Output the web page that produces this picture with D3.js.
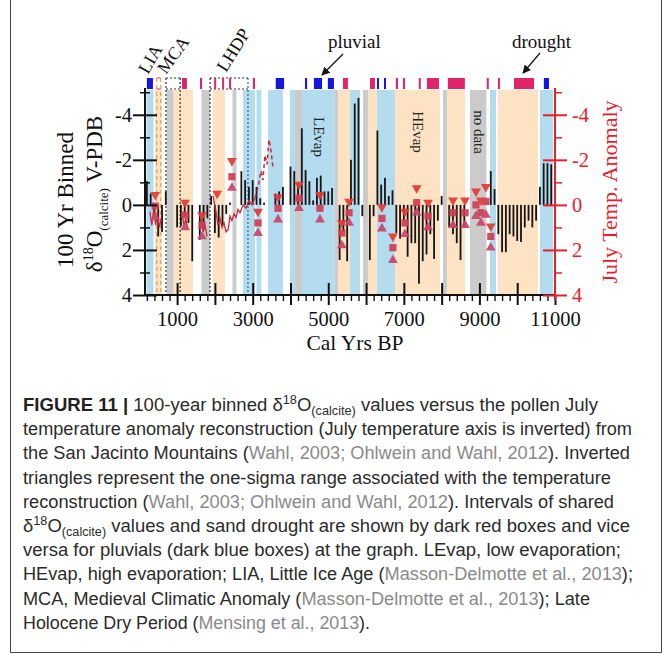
<!DOCTYPE html>
<html><head><meta charset="utf-8">
<script src="https://cdn.jsdelivr.net/npm/d3@7"></script>
<style>body{margin:0;background:#fff}</style>
</head><body>
<svg id="chart" width="672" height="654"></svg>
<script>
// ---------- DATA ----------
const binYears = [200,300,400,500,600,700,1000,1100,1200,1300,1400,1600,1700,1800,1900,2000,2100,2200,2300,2400,
  2700,2800,2900,3000,3100,3200,3300,3600,3700,3800,4000,4100,4200,4300,4400,4500,4600,4700,4800,4900,5000,5100,
  5300,5400,5500,5600,5700,5800,5900,6100,6200,6300,6400,6500,6600,6700,6800,6900,7000,7100,7200,7300,7400,7500,
  7600,7700,7800,7900,8000,8200,8300,8400,8500,8600,9300,9400,9500,9600,9700,9800,9900,10000,10100,10200,10300,
  10400,10500,10600,10700,10800,10900];
const d18O = [-1.05,-0.5,0.5,1.4,1.2,-0.6,1.0,0.95,0.5,0.8,2.5,1.55,1.1,0.6,-0.4,1.25,1.45,0.9,0.4,-0.1,
  -1.5,-1.1,-0.8,-1.1,-0.8,-0.3,-0.1,-0.5,-0.6,-0.8,-1.7,-1.5,-1.0,-3.4,-1.55,-1.05,-0.2,-1.2,-1.3,-0.6,-0.6,-0.75,
  2.45,1.2,2.5,-2.0,-4.5,-4.75,0.5,2.45,0.5,-3.3,-0.9,-1.2,-0.4,-0.65,1.25,1.5,0.7,2.3,1.7,1.7,3.5,2.5,
  2.2,1.3,2.4,0.7,-0.4,1.0,1.3,1.7,2.45,1.0,-1.5,-0.7,1.3,2.1,2.1,1.3,1.4,1.6,1.65,1.0,0.7,
  1.0,0.7,-0.8,-1.85,-1.85,-1.8];

// July temperature anomaly reconstruction (upper sigma, mean, lower sigma)
const tempYears = [420,1210,1660,2060,2450,3140,3670,4225,4780,5360,5550,6420,6710,7030,7340,7640,8300,8620,8910,9040,9170,9300];
const tempUpper = [-0.45,-0.1,0.45,-0.5,-1.95,0.3,-0.35,-0.9,-0.45,0.8,-0.15,0.1,1.4,0.3,-0.75,-0.1,-0.2,-0.2,-0.6,-0.2,-0.8,0.95];
const tempMean  = [0.05,0.45,0.9,null,-1.25,0.8,0.15,-0.3,0.15,1.25,0.35,0.6,1.9,0.8,-0.1,0.5,0.35,0.35,0.0,0.35,-0.15,1.4];
const tempLower = [0.55,1.0,1.4,null,-0.75,1.25,0.65,0.15,0.65,1.8,0.8,1.05,2.45,1.3,0.35,1.0,0.9,0.9,0.5,0.8,0.45,1.9];

// high-resolution temperature line (solid) and dashed part
const tempLineYears = [280,330,380,430,480,530,580,null,1130,1180,1230,1280,null,1640,1690,1740,1790,null,
  1950,2030,2080,2135,2190,2240,2295,2350,2400,2450,2505,2560,2610,2665,2745,2825,2900,2980,3060];
const tempLineVals  = [0.3,0.9,0.2,0.9,0.4,1.0,0.6,null,0.4,0.9,0.6,1.1,null,0.6,1.2,0.9,1.4,null,
  -0.4,0.3,0.9,0.6,1.0,0.8,1.2,1.1,0.5,0.7,0.4,0.55,0.2,0.35,0.0,0.15,-0.2,0.0,-0.3];
const tempDashYears = [3060,3140,3220,3270,3325,3380,3430,3485,3540];
const tempDashVals  = [-0.3,-0.8,-1.5,-1.1,-2.2,-1.8,-2.9,-2.4,-1.6];

// background intervals
const blueBands   = [[190,375],[2745,3060],[3100,3230],[3405,3800],[3985,5175],[5575,5840],[6290,6765],[9280,9440],[10600,10945]];
const orangeBands = [[415,600],[905,1420],[1950,2265],[5255,5575],[6050,6290],[6765,7955],[8140,8620],[9480,10550]];
const grayBands   = [[720,905],[1645,1870],[2465,2570],[4120,4305],[5175,5255],[5920,6050],[8035,8140],[8750,9185]];

// shared drought / pluvial boxes
const pluvialBoxes = [[200,360],[3610,3830],[4385,4440],[4620,4835],[4990,5150],[6290,6340],[6475,6525],[10705,10840]];
const droughtBoxes = [[1130,1260],[1605,1660],[1980,2030],[2190,2240],[2375,2425],[3005,3060],[5390,5520],[6105,6235],
  [6790,6845],[6975,7030],[7395,7430],[7610,7930],[8165,8615],[9195,9230],[9490,9540],[9915,10445]];

// periods
const periodNames = ["LIA","MCA","LHDP"];
const periodStart = [460,705,1870];
const periodEnd   = [565,1080,2875];

const yTicksMajor = [-4,-2,0,2,4];
const yTicksMinor = [-5,-3,-1,1,3];
const xTicksMajor = [1000,2000,3000,4000,5000,6000,7000,8000,9000,10000,11000];
const xTickLabels = [1000,3000,5000,7000,9000,11000];

// ---------- DRAW ----------
const svg = d3.select("#chart");
const serif = "'Liberation Serif','Times New Roman',serif";
const x = d3.scaleLinear().domain([150, 11000]).range([145, 555]);
const y = d3.scaleLinear().domain([-5.1, 4]).range([90, 295]);
const yT = d3.scaleLinear().domain([-5.1, 4]).range([90, 295]);
const plotTop = 90, plotBot = 295;

// frame
svg.append("line").attr("x1",10.5).attr("x2",10.5).attr("y1",0).attr("y2",652.5).attr("stroke","#444");
svg.append("line").attr("x1",661.5).attr("x2",661.5).attr("y1",0).attr("y2",652.5).attr("stroke","#444");
svg.append("line").attr("x1",10.5).attr("x2",661.5).attr("y1",652.5).attr("y2",652.5).attr("stroke","#444");

function bands(data, color){
  svg.append("g").selectAll("rect").data(data).join("rect")
    .attr("x", d=>x(d[0])).attr("width", d=>x(d[1])-x(d[0]))
    .attr("y", plotTop).attr("height", plotBot-plotTop).attr("fill", color);
}
bands(blueBands, "#b3dcef");
bands(orangeBands, "#fde2c4");
bands(grayBands, "#cbcbcb");

// period dividers
const pStroke = ["#f0a050","#333","#333"];
const pDash = ["4,3","2,2","2,2"];
periodNames.forEach((n,i)=>{
  [periodStart[i], periodEnd[i]].forEach((yr,j)=>{
    svg.append("line").attr("x1",x(yr)).attr("x2",x(yr)).attr("y1",78).attr("y2",plotBot)
      .attr("stroke", (i===2&&j===1)?"#2a6a8a":pStroke[i]).attr("stroke-width",1.2).attr("stroke-dasharray",pDash[i]);
  });
  [78,89].forEach(yy=>{
    svg.append("line").attr("x1",x(periodStart[i])).attr("x2",x(periodEnd[i])).attr("y1",yy).attr("y2",yy)
      .attr("stroke", i===0?"#e05080":"#333").attr("stroke-width",1.2).attr("stroke-dasharray",pDash[i]);
  });
});

// top boxes
svg.append("g").selectAll("rect").data(pluvialBoxes).join("rect")
  .attr("x",d=>x(d[0])).attr("width",d=>Math.max(2,x(d[1])-x(d[0]))).attr("y",78).attr("height",11).attr("fill","#1616e0");
svg.append("g").selectAll("rect").data(droughtBoxes).join("rect")
  .attr("x",d=>x(d[0])).attr("width",d=>Math.max(2,x(d[1])-x(d[0]))).attr("y",78).attr("height",11).attr("fill","#e2246c");

// bars
svg.append("g").selectAll("rect").data(binYears).join("rect")
  .attr("x",(d)=>x(d)-0.9).attr("width",1.8)
  .attr("y",(d,i)=>Math.min(y(0),y(d18O[i]))).attr("height",(d,i)=>Math.abs(y(d18O[i])-y(0)))
  .attr("fill","#151515");

// temperature lines
const line = d3.line().defined(d=>d[1]!==null).x(d=>x(d[0])).y(d=>yT(d[1]));
svg.append("path").datum(tempLineYears.map((d,i)=>[d,tempLineVals[i]]))
  .attr("d",line).attr("fill","none").attr("stroke","#c8283a").attr("stroke-width",1.3);
svg.append("path").datum(tempDashYears.map((d,i)=>[d,tempDashVals[i]]))
  .attr("d",line).attr("fill","none").attr("stroke","#c8283a").attr("stroke-width",1.5).attr("stroke-dasharray","4,3");

// markers
const triSym = d3.symbol().type(d3.symbolTriangle).size(42);
const sqSym = d3.symbol().type(d3.symbolSquare).size(52);
const mk = svg.append("g").attr("opacity",0.92);
tempYears.forEach((yr,i)=>{
  if(tempUpper[i]!==null) mk.append("path").attr("d",triSym()).attr("fill","#e23a36")
    .attr("transform",`translate(${x(yr)},${yT(tempUpper[i])}) rotate(180)`);
  if(tempMean[i]!==null) mk.append("path").attr("d",sqSym()).attr("fill","#d23c55")
    .attr("transform",`translate(${x(yr)},${yT(tempMean[i])})`);
  if(tempLower[i]!==null) mk.append("path").attr("d",triSym()).attr("fill","#c9466a")
    .attr("transform",`translate(${x(yr)},${yT(tempLower[i])})`);
});

// in-plot labels
[["LEvap",319,137],["HEvap",418,132],["no data",479,132]].forEach(t=>{
  svg.append("text").attr("transform",`translate(${t[1]},${t[2]}) rotate(90)`)
    .attr("text-anchor","middle").attr("dy","0.35em").attr("font-family",serif).attr("font-size",15)
    .attr("fill","#222").text(t[0]);
});

// ---------- AXES ----------
function styleAxis(g, color, w){
  g.select(".domain").remove();
  g.selectAll(".tick line").attr("stroke",color).attr("stroke-width",w);
  g.selectAll("text").attr("fill",color).attr("font-family",serif).attr("font-size",20.5);
}
// left axis
let g;
g = svg.append("g").attr("transform","translate(145,0)")
  .call(d3.axisLeft(y).tickValues(yTicksMajor).tickSize(12).tickPadding(1).tickFormat(d=>String(d)));
styleAxis(g,"#111",2);
g = svg.append("g").attr("transform","translate(145,0)")
  .call(d3.axisRight(y).tickValues(yTicksMajor).tickSize(12).tickFormat(""));
styleAxis(g,"#111",2);
g = svg.append("g").attr("transform","translate(145,0)")
  .call(d3.axisLeft(y).tickValues(yTicksMinor).tickSize(5).tickFormat(""));
styleAxis(g,"#111",1.5);
g = svg.append("g").attr("transform","translate(145,0)")
  .call(d3.axisRight(y).tickValues(yTicksMinor).tickSize(5).tickFormat(""));
styleAxis(g,"#111",1.5);
svg.append("line").attr("x1",145).attr("x2",145).attr("y1",88).attr("y2",plotBot).attr("stroke","#111").attr("stroke-width",2);

// bottom axis
const xMinor = d3.range(200, 11000, 200).filter(v=>v%1000!==0);
g = svg.append("g").attr("transform",`translate(0,${plotBot})`)
  .call(d3.axisBottom(x).tickValues(xTicksMajor).tickSize(10).tickPadding(6)
  .tickFormat(d=>xTickLabels.includes(d)?String(d):""));
styleAxis(g,"#111",2);
g = svg.append("g").attr("transform",`translate(0,${plotBot})`)
  .call(d3.axisTop(x).tickValues(xTicksMajor.filter(v=>v<11000)).tickSize(12).tickFormat(""));
styleAxis(g,"#111",2);
g = svg.append("g").attr("transform",`translate(0,${plotBot})`)
  .call(d3.axisBottom(x).tickValues(xMinor).tickSize(6).tickFormat(""));
styleAxis(g,"#111",1.4);
svg.append("line").attr("x1",145).attr("x2",555).attr("y1",plotBot).attr("y2",plotBot).attr("stroke","#111").attr("stroke-width",2);

// right axis (temperature, red)
const red = "#e8202a";
g = svg.append("g").attr("transform","translate(555,0)")
  .call(d3.axisRight(yT).tickValues(yTicksMajor).tickSize(12).tickPadding(5).tickFormat(d=>String(d)));
styleAxis(g,red,2);
g = svg.append("g").attr("transform","translate(555,0)")
  .call(d3.axisLeft(yT).tickValues(yTicksMajor).tickSize(12).tickFormat(""));
styleAxis(g,red,2);
g = svg.append("g").attr("transform","translate(555,0)")
  .call(d3.axisRight(yT).tickValues(yTicksMinor).tickSize(7).tickFormat(""));
styleAxis(g,red,1.5);
svg.append("line").attr("x1",555).attr("x2",555).attr("y1",88).attr("y2",300).attr("stroke",red).attr("stroke-width",2);

// axis titles
svg.append("text").attr("x",355).attr("y",350).attr("text-anchor","middle")
  .attr("font-family",serif).attr("font-size",21.5).attr("fill","#111").text("Cal Yrs BP");
svg.append("text").attr("transform","translate(73,200) rotate(-90)").attr("text-anchor","middle")
  .attr("font-family",serif).attr("font-size",23).attr("fill","#111").text("100 Yr Binned");
const t2 = svg.append("text").attr("transform","translate(102,194) rotate(-90)").attr("text-anchor","middle")
  .attr("font-family",serif).attr("font-size",23).attr("fill","#111");
t2.append("tspan").text("δ");
t2.append("tspan").attr("font-size",14).attr("dy",-9).text("18");
t2.append("tspan").attr("dy",9).text("O");
t2.append("tspan").attr("font-size",13).attr("dy",6).text("(calcite)");
t2.append("tspan").attr("dy",-6).text(" V-PDB");
svg.append("text").attr("transform","translate(617,192) rotate(-90)").attr("text-anchor","middle")
  .attr("font-family",serif).attr("font-size",22).attr("fill",red).text("July Temp. Anomaly");

// top annotations
[["LIA",148,75,-60],["MCA",166,75,-54],["LHDP",226,73,-58]].forEach(t=>{
  svg.append("text").attr("transform",`translate(${t[1]},${t[2]}) rotate(${t[3]})`)
    .attr("font-family",serif).attr("font-size",18).attr("fill","#111").text(t[0]);
});
svg.append("text").attr("x",328).attr("y",48).attr("font-family",serif).attr("font-size",19).attr("fill","#111").text("pluvial");
svg.append("text").attr("x",512).attr("y",48).attr("font-family",serif).attr("font-size",19).attr("fill","#111").text("drought");
svg.append("defs").append("marker").attr("id","ah").attr("viewBox","0 0 10 10").attr("refX",9).attr("refY",5)
  .attr("markerWidth",7).attr("markerHeight",7).attr("orient","auto")
  .append("path").attr("d","M0,0 L10,5 L0,10 z").attr("fill","#111");
svg.append("line").attr("x1",343).attr("y1",54).attr("x2",322).attr("y2",75).attr("stroke","#111").attr("stroke-width",1.2).attr("marker-end","url(#ah)");
svg.append("line").attr("x1",540).attr("y1",53).attr("x2",523).attr("y2",73).attr("stroke","#111").attr("stroke-width",1.2).attr("marker-end","url(#ah)");

// ---------- CAPTION ----------
const capLines = [
  [["b","FIGURE 11 | "],["n","100-year binned δ"],["sup","18"],["n","O"],["sub","(calcite)"],["n"," values versus the pollen July"]],
  [["n","temperature anomaly reconstruction (July temperature axis is inverted) from"]],
  [["n","the San Jacinto Mountains ("],["c","Wahl, 2003; Ohlwein and Wahl, 2012"],["n","). Inverted"]],
  [["n","triangles represent the one-sigma range associated with the temperature"]],
  [["n","reconstruction ("],["c","Wahl, 2003; Ohlwein and Wahl, 2012"],["n","). Intervals of shared"]],
  [["n","δ"],["sup","18"],["n","O"],["sub","(calcite)"],["n"," values and sand drought are shown by dark red boxes and vice"]],
  [["n","versa for pluvials (dark blue boxes) at the graph. LEvap, low evaporation;"]],
  [["n","HEvap, high evaporation; LIA, Little Ice Age ("],["c","Masson-Delmotte et al., 2013"],["n",");"]],
  [["n","MCA, Medieval Climatic Anomaly ("],["c","Masson-Delmotte et al., 2013"],["n","); Late"]],
  [["n","Holocene Dry Period ("],["c","Mensing et al., 2013"],["n",")."]]
];
const capEnds = [598,632,630,611,614,630,621,633,590,370];
const sans = "'Liberation Sans',Arial,sans-serif";
capLines.forEach((parts,i)=>{
  const t = svg.append("text").attr("x",23).attr("y",411+i*24.2).attr("font-family",sans)
    .attr("font-size",17.5).attr("fill","#2b2b2b")
    .attr("textLength",capEnds[i]-23).attr("lengthAdjust","spacingAndGlyphs");
  let shift = 0;
  parts.forEach(p=>{
    const s = t.append("tspan").text(p[1]);
    let target = 0;
    if(p[0]==="b") s.attr("font-weight","bold").attr("fill","#222");
    if(p[0]==="c") s.attr("fill","#8a8a8a");
    if(p[0]==="sup"){ s.attr("font-size",12); target=-7; }
    if(p[0]==="sub"){ s.attr("font-size",12); target=4; }
    if(target!==shift){ s.attr("dy",target-shift); shift=target; }
  });
});
</script>
</body></html>
